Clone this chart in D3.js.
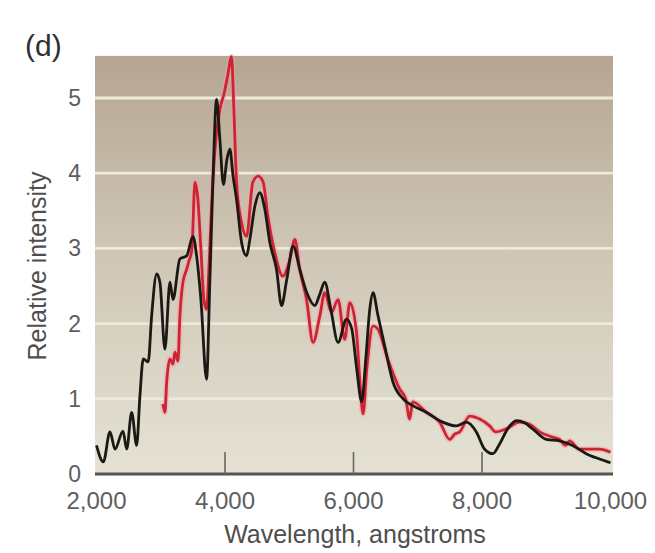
<!DOCTYPE html>
<html>
<head>
<meta charset="utf-8">
<script src="https://cdn.jsdelivr.net/npm/d3@7"></script>
<style>
  html, body { margin: 0; padding: 0; background: #ffffff; }
  svg text { font-family: "Liberation Sans", Arial, sans-serif; }
</style>
</head>
<body>
<svg id="chart" width="655" height="553"></svg>
<script>
// Wavelength (angstroms) and relative intensity of the two spectra
const blackWave = [2000, 2106, 2210, 2288, 2412, 2470, 2547, 2625, 2676, 2728, 2805, 2858, 2936, 2987, 3065, 3143, 3190, 3298, 3403, 3501, 3558, 3625, 3713, 3765, 3811, 3869, 3920, 3975, 4029, 4076, 4123, 4180, 4258, 4336, 4387, 4465, 4542, 4620, 4698, 4802, 4880, 4962, 5060, 5164, 5269, 5398, 5475, 5553, 5647, 5760, 5891, 5973, 6051, 6128, 6191, 6253, 6304, 6378, 6486, 6615, 6771, 6921, 7134, 7388, 7601, 7757, 7912, 8041, 8170, 8274, 8399, 8534, 8663, 8788, 9001, 9207, 9409, 9622, 9829, 10000];
const blackIntensity = [0.38, 0.16, 0.56, 0.33, 0.57, 0.33, 0.82, 0.38, 1.04, 1.53, 1.49, 2.10, 2.66, 2.55, 1.66, 2.55, 2.32, 2.86, 2.90, 3.16, 2.90, 2.32, 1.26, 2.59, 3.88, 4.98, 4.45, 3.85, 4.18, 4.32, 3.98, 3.65, 3.08, 2.90, 3.12, 3.56, 3.74, 3.52, 3.08, 2.72, 2.24, 2.59, 3.03, 2.72, 2.42, 2.24, 2.39, 2.55, 2.19, 1.75, 2.06, 1.93, 1.39, 0.96, 1.53, 2.19, 2.41, 2.12, 1.70, 1.22, 1.00, 0.91, 0.82, 0.69, 0.64, 0.69, 0.56, 0.33, 0.27, 0.40, 0.60, 0.71, 0.68, 0.60, 0.46, 0.44, 0.38, 0.27, 0.20, 0.15];

const redWave = [3034, 3065, 3092, 3143, 3190, 3221, 3268, 3298, 3345, 3403, 3438, 3485, 3532, 3578, 3625, 3672, 3713, 3749, 3796, 3858, 3920, 3983, 4045, 4102, 4138, 4180, 4258, 4336, 4433, 4516, 4594, 4667, 4776, 4900, 5009, 5087, 5164, 5269, 5371, 5475, 5553, 5657, 5760, 5864, 5942, 6046, 6097, 6149, 6206, 6304, 6378, 6533, 6719, 6813, 6875, 6921, 7134, 7341, 7497, 7575, 7653, 7808, 7963, 8119, 8212, 8378, 8585, 8741, 8896, 9098, 9207, 9300, 9362, 9518, 9829, 10000];
const redIntensity = [0.93, 0.82, 1.22, 1.53, 1.46, 1.62, 1.50, 2.10, 2.55, 2.72, 2.83, 2.99, 3.88, 3.65, 2.99, 2.32, 2.19, 2.72, 3.65, 4.45, 4.85, 5.05, 5.31, 5.55, 4.85, 3.88, 3.34, 3.16, 3.88, 3.96, 3.88, 3.43, 2.94, 2.63, 2.85, 3.12, 2.72, 2.32, 1.75, 2.10, 2.41, 2.15, 2.32, 1.79, 2.28, 1.89, 1.26, 0.80, 1.39, 1.97, 1.93, 1.53, 1.13, 1.00, 0.73, 0.96, 0.82, 0.69, 0.46, 0.53, 0.56, 0.77, 0.73, 0.64, 0.56, 0.60, 0.69, 0.66, 0.56, 0.49, 0.46, 0.38, 0.44, 0.33, 0.33, 0.29];

const xTicks = [2000, 4000, 6000, 8000, 10000];
const yTicks = [0, 1, 2, 3, 4, 5];

const svg = d3.select("#chart");
const left = 96.5, right = 610.5, bottom = 474;
const x = d3.scaleLinear().domain([2000, 10000]).range([left, right]);
const y = d3.scaleLinear().domain([0, 5]).range([bottom, 98]);
const yTop = 5.56;

// plot background: warm tan fading to pale cream
const defs = svg.append("defs");
const grad = defs.append("linearGradient").attr("id", "bg")
  .attr("x1", 0).attr("y1", 0).attr("x2", 0).attr("y2", 1);
grad.append("stop").attr("offset", "0%").attr("stop-color", "#b5a591");
grad.append("stop").attr("offset", "12%").attr("stop-color", "#bcae9b");
grad.append("stop").attr("offset", "45%").attr("stop-color", "#cec5b4");
grad.append("stop").attr("offset", "80%").attr("stop-color", "#dcd8c9");
grad.append("stop").attr("offset", "100%").attr("stop-color", "#e5e2d4");

svg.append("rect")
  .attr("x", left - 1.5).attr("y", y(yTop))
  .attr("width", right - left + 4).attr("height", bottom - y(yTop))
  .attr("fill", "url(#bg)");

// horizontal gridlines
svg.append("g").selectAll("line")
  .data(yTicks.filter(d => d > 0))
  .join("line")
  .attr("x1", left - 1.5).attr("x2", right + 2.5)
  .attr("y1", d => y(d)).attr("y2", d => y(d))
  .attr("stroke", "#efe9da").attr("stroke-width", 2.8);

// spectra
const line = (w, v) => d3.line()
  .x(i => x(w[i])).y(i => y(v[i]))
  .curve(d3.curveMonotoneX)(d3.range(w.length));

svg.append("path").attr("d", line(redWave, redIntensity))
  .attr("fill", "none").attr("stroke", "#f0a0a6").attr("stroke-width", 6).attr("opacity", 0.45);
svg.append("path").attr("d", line(redWave, redIntensity))
  .attr("fill", "none").attr("stroke", "#cf2233").attr("stroke-width", 2.8)
  .attr("stroke-linejoin", "round");
svg.append("path").attr("d", line(blackWave, blackIntensity))
  .attr("fill", "none").attr("stroke", "#1c1814").attr("stroke-width", 2.8)
  .attr("stroke-linejoin", "round");

// x axis: baseline with inward ticks
const xAxis = svg.append("g");
xAxis.append("line")
  .attr("x1", left - 1.5).attr("x2", right + 2.5)
  .attr("y1", bottom).attr("y2", bottom)
  .attr("stroke", "#57534e").attr("stroke-width", 3);
xAxis.selectAll("line.tick")
  .data(xTicks.slice(1, -1))
  .join("line").attr("class", "tick")
  .attr("x1", d => x(d)).attr("x2", d => x(d))
  .attr("y1", bottom).attr("y2", bottom - 22)
  .attr("stroke", "#6a655e").attr("stroke-width", 1.6);
xAxis.selectAll("text")
  .data(xTicks)
  .join("text")
  .attr("x", d => x(d)).attr("y", bottom + 35)
  .attr("text-anchor", "middle")
  .attr("font-size", 24).attr("fill", "#5e5e5e")
  .text(d3.format(","));

// y tick labels
svg.append("g").selectAll("text")
  .data(yTicks)
  .join("text")
  .attr("x", 81).attr("y", d => y(d) + 8)
  .attr("text-anchor", "end")
  .attr("font-size", 23).attr("fill", "#5e5e5e")
  .text(d => d);

// axis titles
svg.append("text")
  .attr("x", 355).attr("y", 543)
  .attr("text-anchor", "middle")
  .attr("font-size", 25).attr("fill", "#4e4e4e")
  .text("Wavelength, angstroms");

svg.append("text")
  .attr("transform", "translate(46,266) rotate(-90)")
  .attr("text-anchor", "middle")
  .attr("font-size", 25).attr("fill", "#4e4e4e")
  .text("Relative intensity");

// panel label
svg.append("text")
  .attr("x", 25).attr("y", 56)
  .attr("font-size", 30).attr("fill", "#2f2f2f")
  .text("(d)");
</script>
</body>
</html>
